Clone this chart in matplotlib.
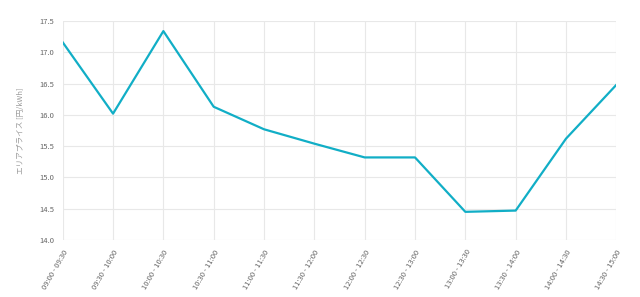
import matplotlib.pyplot as plt

plt.rcParams['font.family'] = ['Noto Sans CJK JP', 'DejaVu Sans']

slots = ['09:00 - 09:30', '09:30 - 10:00', '10:00 - 10:30', '10:30 - 11:00',
         '11:00 - 11:30', '11:30 - 12:00', '12:00 - 12:30', '12:30 - 13:00',
         '13:00 - 13:30', '13:30 - 14:00', '14:00 - 14:30', '14:30 - 15:00']
price = [17.16, 16.02, 17.34, 16.13, 15.77, 15.54, 15.32, 15.32,
         14.45, 14.47, 15.62, 16.48]
yticks = [14.0, 14.5, 15.0, 15.5, 16.0, 16.5, 17.0, 17.5]

fig, ax = plt.subplots(figsize=(6.4, 2.97), dpi=100)
fig.subplots_adjust(left=0.098, right=0.963, top=0.929, bottom=0.192)

x = list(range(len(slots)))
ax.plot(x, price, color='#11aec6', lw=1.6)

ax.set_xlim(0, len(slots) - 1)
ax.set_ylim(14.0, 17.5)
ax.set_yticks(yticks)
ax.set_yticklabels([f'{v:.1f}' for v in yticks])
ax.set_xticks(x)
ax.set_xticklabels(slots, rotation=60, ha='right', rotation_mode='anchor')

ax.grid(True, color='#e8e8e8', lw=0.8)
for s in ax.spines.values():
    s.set_visible(False)
ax.tick_params(length=0, labelsize=5.5, labelcolor='#666666', pad=6)
ax.set_ylabel('エリアプライス [円/kWh]', fontsize=5.5, color='#999999', labelpad=10)

plt.savefig('out.png')
